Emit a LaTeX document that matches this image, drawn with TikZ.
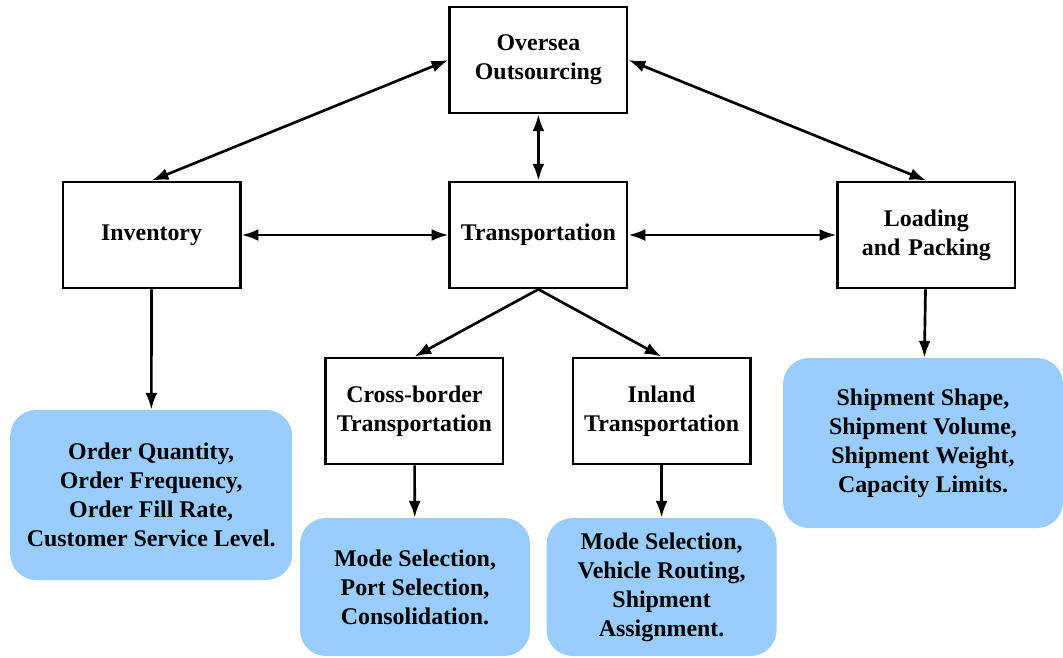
\documentclass[tikz,border=0pt]{standalone}
\usepackage{fontspec}
\setmainfont{Liberation Serif}
\usepackage{xcolor}
\usetikzlibrary{arrows.meta}
\definecolor{boxblue}{RGB}{153,204,255}
\tikzstyle{block} = [rectangle, draw, line width=1.9pt, align=center, text width=4.2cm, minimum width=4.425cm, minimum height=2.65cm, font=\fontsize{17}{20.6}\selectfont\bfseries]
\tikzstyle{infoL} = [rectangle, rounded corners=0.65cm, fill=boxblue, align=center, minimum width=7.05cm, minimum height=4.25cm, font=\fontsize{17}{20.6}\selectfont\bfseries]
\tikzstyle{infoS} = [infoL, minimum width=5.75cm, minimum height=3.45cm]
\tikzstyle{line} = [draw, line width=1.9pt, -{Latex[length=12pt, width=8.5pt]}]
\tikzstyle{dline} = [line, {Latex[length=12pt, width=8.5pt]}-{Latex[length=12pt, width=8.5pt]}]

\begin{document}
\begin{tikzpicture}
\useasboundingbox (0,0) rectangle (26.575,-16.45);

\node [block] (O) at (13.46,-1.5) {Oversea\\Outsourcing};
\node [block] (T) at (13.46,-5.875) {Transportation};
\node [block] (I) at (3.79,-5.875) {Inventory};
\node [block] (L) at (23.16,-5.875) {Loading\\and Packing};
\node [block] (C) at (10.36,-10.275) {Cross-border\\Transportation};
\node [block] (N) at (16.54,-10.275) {Inland\\Transportation};

\node [infoL] (IQ) at (3.78,-12.375) {Order Quantity,\\Order Frequency,\\Order Fill Rate,\\Customer Service Level.};
\node [infoS] (CQ) at (10.375,-14.675) {Mode Selection,\\Port Selection,\\Consolidation.};
\node [infoS] (NQ) at (16.54,-14.675) {Mode Selection,\\Vehicle Routing,\\Shipment\\Assignment.};
\node [infoL, minimum width=7cm] (LQ) at (23.075,-11.075) {Shipment Shape,\\Shipment Volume,\\Shipment Weight,\\Capacity Limits.};

\path [dline] (I.north) -- (O.west);
\path [dline] (L.north) -- (O.east);
\path [dline] (O) -- (T);
\path [dline] (I) -- (T);
\path [dline] (T) -- (L);

\path [line] (T.south) -- (C.north);
\path [line] (T.south) -- (N.north);
\path [line] (I) -- (IQ);
\path [line] (C) -- (CQ);
\path [line] (N) -- (NQ);
\path [line] (L) -- (LQ);

\end{tikzpicture}
\end{document}
